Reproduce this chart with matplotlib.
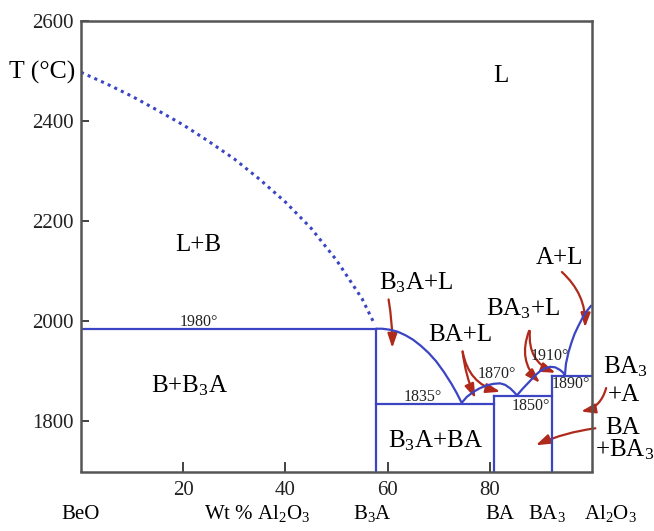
import matplotlib
matplotlib.use("Agg")
import matplotlib.pyplot as plt
from matplotlib.patches import FancyArrowPatch

plt.rcParams['font.family'] = ['Liberation Serif', 'DejaVu Serif']
plt.rcParams['mathtext.fontset'] = 'custom'
plt.rcParams['mathtext.rm'] = 'Liberation Serif'
plt.rcParams['mathtext.it'] = 'Liberation Serif:italic'
plt.rcParams['mathtext.bf'] = 'Liberation Serif:bold'

# ---- data (wt % Al2O3, temperature °C) ----
x_ticks = [20, 40, 60, 80]
y_ticks = [1800, 2000, 2200, 2400, 2600]

comp_B3A = 57.7
comp_BA = 80.9
comp_BA3 = 92.1

T_B3A_melt = 1985
T_eut1 = 1835
T_eut2 = 1850
T_eut3 = 1890

liq_B_x = [0, 5, 10, 15, 20, 25, 30, 35, 40, 45, 50, 55, 57.5]
liq_B_T = [2497, 2474, 2449, 2421, 2392, 2359, 2324, 2283, 2238, 2186, 2122, 2045, 1993]

liq_B3A_x = [57.7, 59.0, 60.5, 62.0, 63.5, 65.0, 66.5, 68.0, 69.5, 71.0, 72.5, 73.5, 74.5]
liq_B3A_T = [1985, 1985, 1983, 1979, 1972, 1963, 1951, 1937, 1920, 1899, 1875, 1857, 1837]

liq_BA_x = [74.5, 75.5, 76.8, 78.0, 79.4, 80.7, 82.0, 83.0, 84.0, 84.7, 85.3]
liq_BA_T = [1837, 1849, 1859, 1866, 1872, 1875, 1876, 1873, 1866, 1859, 1852]

liq_BA3_x = [85.3, 86.5, 87.9, 89.0, 89.8, 90.8, 91.8, 92.8, 93.7, 94.3, 94.7]
liq_BA3_T = [1852, 1866, 1881, 1893, 1900, 1906, 1909, 1908, 1903, 1898, 1892]

liq_A_x = [94.7, 94.9, 95.4, 96.0, 96.6, 97.3, 98.0, 98.8, 99.9]
liq_A_T = [1892, 1915, 1938, 1958, 1975, 1990, 2004, 2018, 2032]

region_labels = [
    ("L", 82.2, 2478),
    ("L+B", 22.9, 2141),
    ("B+B$_3$A", 21.3, 1858),
    ("B$_3$A+L", 65.5, 2063),
    ("BA+L", 74.2, 1960),
    ("BA$_3$+L", 86.6, 2011),
    ("A+L", 93.7, 2115),
    ("BA$_3$", 106.5, 1895),
    ("+A", 106.3, 1841),
    ("BA", 106.0, 1775),
    ("+BA$_3$", 106.3, 1731),
    ("B$_3$A+BA", 69.3, 1748),
]

temp_labels = [
    ("1980°", 23.1, 1991),
    ("1835°", 66.8, 1841),
    ("1870°", 81.4, 1887),
    ("1850°", 88.0, 1822),
    ("1910°", 91.8, 1923),
    ("1890°", 95.9, 1867),
]

# arrows: (x_start, T_start, x_end, T_end, rad)
arrows = [
    (60.1, 2049, 60.9, 1941, -0.05),
    (74.6, 1945, 77.4, 1841, 0.08),
    (74.6, 1945, 82.6, 1858, 0.35),
    (87.9, 1986, 90.2, 1873, 0.35),
    (87.9, 1986, 93.4, 1895, 0.40),
    (93.7, 2102, 98.6, 1982, -0.25),
    (102.9, 1872, 97.3, 1819, -0.35),
    (101.2, 1787, 88.5, 1750, 0.08),
]

bottom_labels = [
    ("BeO", 0.0),
    ("Wt % Al$_2$O$_3$", 34.5),
    ("B$_3$A", 57.1),
    ("BA", 82.0),
    ("BA$_3$", 91.2),
    ("Al$_2$O$_3$", 103.7),
]

blue = '#3b45c4'
red = '#b02a1c'

fig = plt.figure(figsize=(6.54, 5.31), dpi=100)
ax = fig.add_axes([81 / 654, 1 - 471.5 / 531, (592 - 81) / 654, (471.5 - 20.7) / 531])
ax.set_xlim(0, 100)
ax.set_ylim(1700, 2600)

lw = 1.6
ax.plot(liq_B_x, liq_B_T, color=blue, lw=2.2, linestyle=(0, (1.0, 1.4)))
for xs, ts in [(liq_B3A_x, liq_B3A_T), (liq_BA_x, liq_BA_T),
               (liq_BA3_x, liq_BA3_T), (liq_A_x, liq_A_T)]:
    ax.plot(xs, ts, color=blue, lw=lw, solid_capstyle='butt', solid_joinstyle='round')

# isotherms
ax.plot([0, comp_B3A], [T_B3A_melt, T_B3A_melt], color=blue, lw=lw)
ax.plot([comp_B3A, comp_BA], [T_eut1, T_eut1], color=blue, lw=lw)
ax.plot([comp_BA, comp_BA3], [T_eut2, T_eut2], color=blue, lw=lw)
ax.plot([comp_BA3, 100], [T_eut3, T_eut3], color=blue, lw=lw)
# compound verticals
ax.plot([comp_B3A, comp_B3A], [1700, T_B3A_melt], color=blue, lw=lw)
ax.plot([comp_BA, comp_BA], [1700, T_eut2], color=blue, lw=lw)
ax.plot([comp_BA3, comp_BA3], [1700, T_eut3], color=blue, lw=lw)

for txt, x, t in region_labels:
    ax.text(x, t, txt, fontsize=18, ha='center', va='baseline', clip_on=False)
for txt, x, t in temp_labels:
    ax.text(x, t, txt, fontsize=11.5, ha='center', va='baseline', color='#222222')

for x0, t0, x1, t1, rad in arrows:
    a = FancyArrowPatch((x0, t0), (x1, t1), connectionstyle=f"arc3,rad={rad}",
                        arrowstyle='-|>,head_length=0.65,head_width=0.22',
                        mutation_scale=13, lw=1.6, color=red, clip_on=False)
    ax.add_patch(a)

ax.set_xticks(x_ticks)
ax.set_yticks(y_ticks)
ax.tick_params(axis='x', direction='in', length=7, width=1.2, labelsize=15, pad=7, colors='#222222')
ax.tick_params(axis='y', direction='in', length=6, width=1.2, labelsize=15, pad=5, colors='#222222')
for s in ax.spines.values():
    s.set_color('#555555')
    s.set_linewidth(1.8)

fig.text(42 / 654, 1 - 72 / 531, "T (°C)", fontsize=18.5, ha='center', va='center')

trans = ax.get_xaxis_transform()
for txt, x in bottom_labels:
    yb = -(519 - 471.5) / 450.8
    ax.text(x, yb, txt, fontsize=15, ha='center', va='baseline', transform=trans, clip_on=False)

fig.savefig("out.png", dpi=100)
